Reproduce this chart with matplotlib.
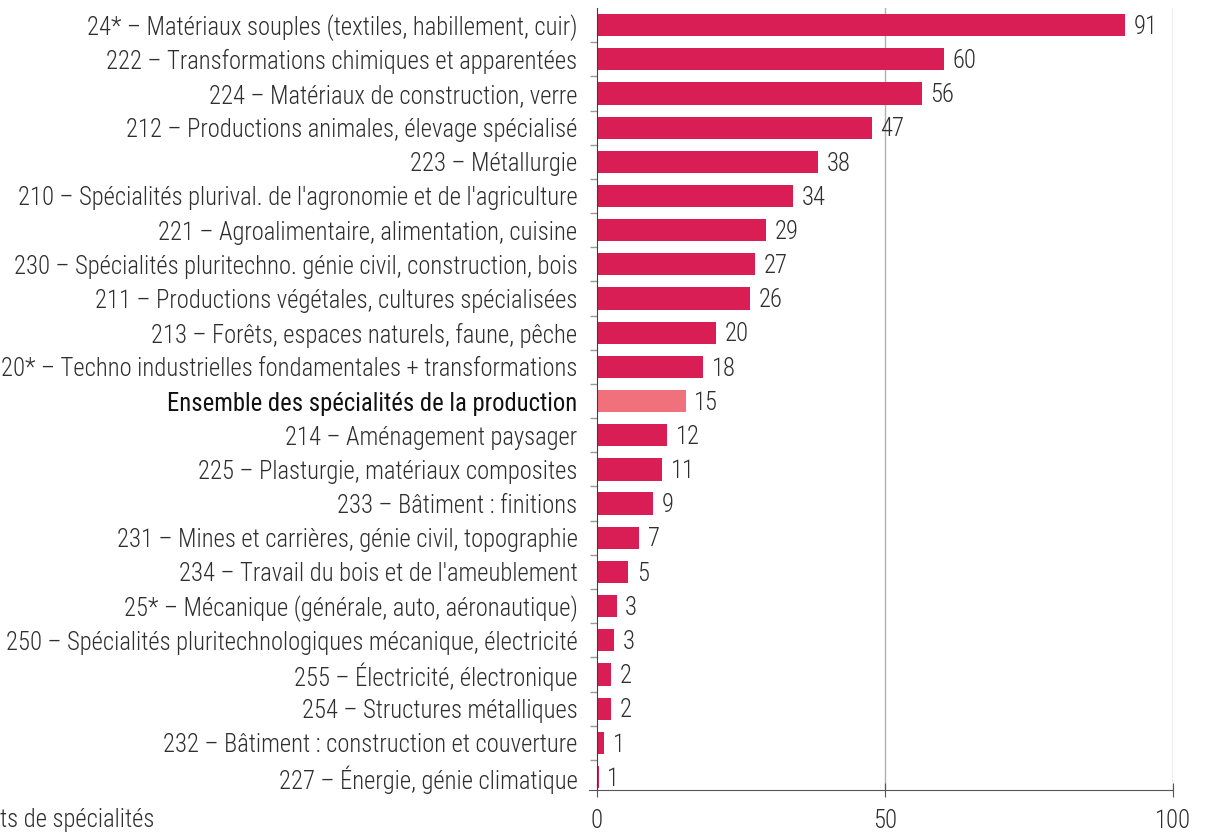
import matplotlib
matplotlib.use("Agg")
import matplotlib.pyplot as plt
from matplotlib import font_manager

# specialites, du plus grand au plus petit
labels = [
    "24* – Matériaux souples (textiles, habillement, cuir)",
    "222 – Transformations chimiques et apparentées",
    "224 – Matériaux de construction, verre",
    "212 – Productions animales, élevage spécialisé",
    "223 – Métallurgie",
    "210 – Spécialités plurival. de l'agronomie et de l'agriculture",
    "221 – Agroalimentaire, alimentation, cuisine",
    "230 – Spécialités pluritechno. génie civil, construction, bois",
    "211 – Productions végétales, cultures spécialisées",
    "213 – Forêts, espaces naturels, faune, pêche",
    "20* – Techno industrielles fondamentales + transformations",
    "Ensemble des spécialités de la production",
    "214 – Aménagement paysager",
    "225 – Plasturgie, matériaux composites",
    "233 – Bâtiment : finitions",
    "231 – Mines et carrières, génie civil, topographie",
    "234 – Travail du bois et de l'ameublement",
    "25* – Mécanique (générale, auto, aéronautique)",
    "250 – Spécialités pluritechnologiques mécanique, électricité",
    "255 – Électricité, électronique",
    "254 – Structures métalliques",
    "232 – Bâtiment : construction et couverture",
    "227 – Énergie, génie climatique",
]
# longueur des barres et valeur affichee (arrondie)
bar_vals = [91.7, 60.2, 56.4, 47.7, 38.4, 34.0, 29.3, 27.4, 26.6, 20.7, 18.4,
            15.4, 12.2, 11.3, 9.8, 7.3, 5.4, 3.4, 2.9, 2.5, 2.5, 1.2, 0.3]
shown = [91, 60, 56, 47, 38, 34, 29, 27, 26, 20, 18,
         15, 12, 11, 9, 7, 5, 3, 3, 2, 2, 1, 1]
total_label = "Ensemble des spécialités de la production"
xticks = [0, 50, 100]
footer = "ts de spécialités"

# police etroite si dispo
fonts = font_manager.fontManager.ttflist
names = {f.name for f in fonts}
stretch = 'normal'
if "Roboto Condensed" in names:
    fam = "Roboto Condensed"
elif "Liberation Sans Narrow" in names:
    fam = "Liberation Sans Narrow"
elif any(f.name == "DejaVu Sans" and f.stretch == 'condensed' for f in fonts):
    fam = "DejaVu Sans"
    stretch = 'condensed'
else:
    fam = "Liberation Sans"
plt.rcParams['font.family'] = [fam, 'DejaVu Sans']
plt.rcParams['font.stretch'] = stretch
plt.rcParams['font.weight'] = 'light'

red = '#d81e55'
pink = '#f0707c'
txt = '#2e2e2e'

fig = plt.figure(figsize=(12.05, 8.33), dpi=100)

# taille de police calee sur la largeur du premier libelle (~490 px)
probe = fig.text(0, 0, labels[0], fontsize=15)
w = probe.get_window_extent(fig.canvas.get_renderer()).width
probe.remove()
fs = min(19, 15 * 490 / w)

ax = fig.add_axes([597/1205, 43/833, (1173-597)/1205, (790-8)/833])

y = list(range(len(labels)))
colors = [pink if l == total_label else red for l in labels]
ax.barh(y, bar_vals, height=0.65, color=colors, zorder=2)

for yi, v, s in zip(y, bar_vals, shown):
    ax.text(v + 1.5, yi + 0.05, str(s), va='center', ha='left', fontsize=fs,
            color=txt, zorder=3)

for xv in [50, 100]:
    ax.axvline(xv, color='#b0b0b0', lw=1, zorder=1)

ax.set_xlim(0, 100)
ax.set_ylim(len(labels) - 1 + 0.38, -0.5)

ax.set_yticks(y)
ax.set_yticklabels(labels, fontsize=fs, color=txt)
for t in ax.get_yticklabels():
    if t.get_text() == total_label:
        t.set_color('#111111')
        t.set_fontweight('normal')
ax.tick_params(axis='y', length=0, pad=14)
ax.set_yticks([i + 0.5 for i in y[:-1]], minor=True)
ax.tick_params(axis='y', which='minor', length=5, color='#999999', width=1)

ax.set_xticks(xticks)
ax.set_xticklabels([str(v) for v in xticks], fontsize=fs, color=txt)
ax.tick_params(axis='x', direction='inout', length=10, color='#555555',
               pad=9)

for s in ['top', 'right']:
    ax.spines[s].set_visible(False)
ax.spines['left'].set_color('#5a3040')
ax.spines['bottom'].set_color('#555555')
ax.spines['bottom'].set_bounds(-1.4, 100)

fig.text(0.0, 833 - 820, footer, transform=None, fontsize=fs, color=txt,
         ha='left', va='center')

fig.savefig('out.png', dpi=100)
